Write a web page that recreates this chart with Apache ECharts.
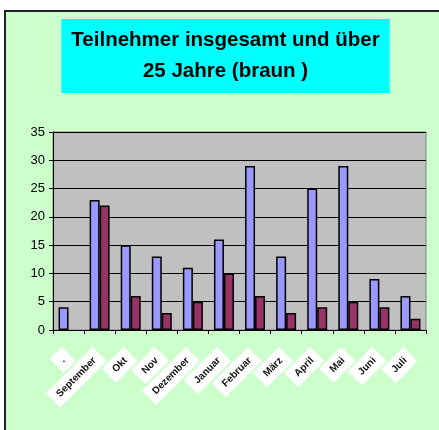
<!DOCTYPE html>
<html>
<head>
<meta charset="utf-8">
<script src="https://cdn.jsdelivr.net/npm/echarts@6/dist/echarts.min.js"></script>
<style>
  html, body { margin: 0; padding: 0; background: #fff; }
  .frame {
    position: absolute; left: 4px; top: 10px; width: 435px; height: 420px;
    background: #ccffcc; border-left: 2px solid #222; border-top: 2px solid #222;
    box-sizing: border-box;
  }
  #chart { position: absolute; left: 0; top: 0; width: 439px; height: 430px; }
</style>
</head>
<body>
<div class="frame"></div>
<div id="chart"></div>
<script>
const categories = ['.', 'September', 'Okt', 'Nov', 'Dezember', 'Januar', 'Februar', 'März', 'April', 'Mai', 'Juni', 'Juli']
// insgesamt (blau) und über 25 Jahre (braun); null = kein Balken
const totalValues = [4, 23, 15, 13, 11, 16, 29, 13, 25, 29, 9, 6]
const over25Values = [null, 22, 6, 3, 5, 10, 6, 3, 4, 5, 4, 2]
const yTicks = { min: 0, max: 35, interval: 5 }

const chart = echarts.init(document.getElementById('chart'), null, { renderer: 'canvas' })

const barBorder = { borderColor: '#000', borderWidth: 1.5 }

chart.setOption({
  backgroundColor: 'transparent',
  animation: false,
  title: {
    text: 'Teilnehmer insgesamt und über\n25 Jahre (braun )',
    // textAlign center: Boxmitte liegt bei left + padding
    left: 215.5,
    top: 19,
    textAlign: 'center',
    backgroundColor: '#00ffff',
    padding: [6, 10, 6, 10],
    textStyle: {
      fontFamily: 'Liberation Sans, Arial, sans-serif',
      fontSize: 20.5,
      fontWeight: 'bold',
      color: '#000',
      lineHeight: 31
    }
  },
  grid: {
    left: 53, top: 132, right: 13, bottom: 100,
    show: true,
    backgroundColor: '#c0c0c0',
    borderColor: '#808080',
    borderWidth: 1
  },
  xAxis: {
    type: 'category',
    data: categories,
    axisLine: { lineStyle: { color: '#000', width: 1 } },
    axisTick: { show: true, length: 4, lineStyle: { color: '#000' } },
    axisLabel: {
      rotate: 45,
      interval: 0,
      margin: 24,
      fontFamily: 'Liberation Sans, Arial, sans-serif',
      fontSize: 10,
      fontWeight: 'bold',
      color: '#111',
      backgroundColor: '#fff',
      padding: [5, 7]
    }
  },
  yAxis: {
    type: 'value',
    min: yTicks.min,
    max: yTicks.max,
    interval: yTicks.interval,
    axisLine: { show: true, lineStyle: { color: '#000', width: 1 } },
    axisTick: { show: true, length: 4, lineStyle: { color: '#000' } },
    axisLabel: {
      margin: 8,
      fontFamily: 'Liberation Sans, Arial, sans-serif',
      fontSize: 13,
      color: '#000'
    },
    splitLine: { lineStyle: { color: '#000', width: 1 } }
  },
  series: [
    {
      name: 'insgesamt',
      type: 'bar',
      data: totalValues,
      barWidth: 10,
      barGap: '0%',
      itemStyle: Object.assign({ color: '#9999ff' }, barBorder)
    },
    {
      name: 'über 25 Jahre',
      type: 'bar',
      data: over25Values,
      barWidth: 10,
      itemStyle: Object.assign({ color: '#993366' }, barBorder)
    }
  ]
})
</script>
</body>
</html>
